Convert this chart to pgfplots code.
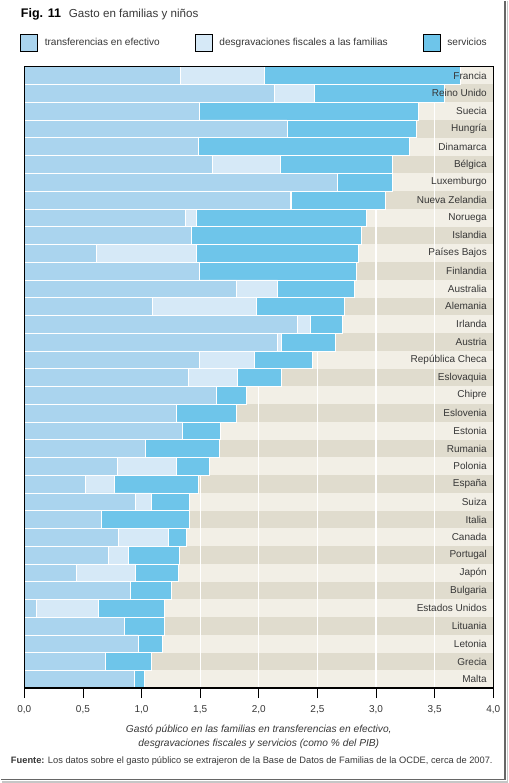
\documentclass[border=0pt]{standalone}
\usepackage{fontspec}
\setmainfont{Liberation Sans}
\usepackage{pgfplots}
\usepackage{pgfplotstable}
\pgfplotsset{compat=1.18}
\definecolor{cashc}{RGB}{170,212,238}
\definecolor{taxc}{RGB}{214,233,247}
\definecolor{servc}{RGB}{110,197,234}
\definecolor{stripeL}{RGB}{242,239,230}
\definecolor{stripeD}{RGB}{224,220,206}
\definecolor{txt}{RGB}{55,55,55}
\pgfplotsset{layers/mylayers/.define layer set={axis background,axis grid,main,axis ticks,axis lines,axis tick labels,axis descriptions,axis foreground}{/pgfplots/layers/standard}}

% idx, country, end of cash transfers, end of tax breaks, total (as % of GDP)
\pgfplotstableread{
idx name cash cashtax total
0 Francia 1.33 2.05 3.72
1 {Reino Unido} 2.13 2.47 3.58
2 Suecia 1.49 1.49 3.36
3 Hungría 2.24 2.24 3.34
4 Dinamarca 1.48 1.48 3.28
5 Bélgica 1.60 2.18 3.14
6 Luxemburgo 2.67 2.67 3.14
7 {Nueva Zelandia} 2.27 2.28 3.08
8 Noruega 1.37 1.47 2.92
9 Islandia 1.42 1.42 2.87
10 {Países Bajos} 0.61 1.47 2.85
11 Finlandia 1.49 1.49 2.83
12 Australia 1.81 2.16 2.81
13 Alemania 1.09 1.98 2.73
14 Irlanda 2.33 2.44 2.71
15 Austria 2.16 2.19 2.65
16 {República Checa} 1.49 1.96 2.46
17 Eslovaquia 1.40 1.82 2.19
18 Chipre 1.64 1.64 1.89
19 Eslovenia 1.30 1.30 1.81
20 Estonia 1.35 1.35 1.67
21 Rumania 1.03 1.03 1.66
22 Polonia 0.79 1.30 1.58
23 España 0.52 0.77 1.48
24 Suiza 0.95 1.08 1.41
25 Italia 0.66 0.66 1.41
26 Canada 0.80 1.23 1.38
27 Portugal 0.72 0.89 1.32
28 Japón 0.44 0.95 1.31
29 Bulgaria 0.90 0.90 1.25
30 {Estados Unidos} 0.10 0.63 1.19
31 Lituania 0.85 0.85 1.19
32 Letonia 0.97 0.97 1.18
33 Grecia 0.69 0.69 1.08
34 Malta 0.94 0.94 1.02
}\data

\begin{document}
\begin{tikzpicture}
\path (0pt,0pt) rectangle (508pt,-783pt);
% frame of the figure
\draw[gray!45, line width=1.5pt] (507pt,0pt) -- (507pt,-782pt) -- (1pt,-782pt);
\draw[gray!80!black, line width=1.6pt] (505pt,0pt) -- (505pt,-779.5pt) -- (0pt,-779.5pt);
% title
\node[anchor=base west, inner sep=0pt] at (20pt,-17pt) {\fontsize{12.5}{14}\selectfont\bfseries Fig. 11};
\node[anchor=base west, inner sep=0pt, text=txt] at (68pt,-17pt) {\fontsize{11.6}{13}\selectfont Gasto en familias y niños};

\begin{axis}[
  set layers=mylayers,
  at={(23.5pt,-688pt)}, anchor=south west,
  scale only axis, width=469.5pt, height=622pt,
  xmin=0, xmax=4, ymin=-0.5, ymax=34.5, y dir=reverse,
  xbar, bar width=1, bar shift=0pt,
  xtick={0,0.5,...,4}, xtick pos=bottom,
  tick align=outside, major tick length=10pt,
  xtick style={black, line width=0.8pt},
  xticklabel style={font=\fontsize{10}{12}\selectfont, text=txt, yshift=-4pt},
  /pgf/number format/fixed, /pgf/number format/fixed zerofill,
  /pgf/number format/precision=1, /pgf/number format/use comma,
  /pgf/number format/assume math mode=true,
  ytick={0,...,34}, yticklabels from table={\data}{name},
  ytick pos=right, yticklabel pos=right, ytick style={draw=none},
  yticklabel style={anchor=east, xshift=-13pt, font=\fontsize{10}{12}\selectfont, text=txt},
  axis line style={black, line width=1.3pt},
  xlabel={Gastó público en las familias en transferencias en efectivo,\\desgravaciones fiscales y servicios (como \% del PIB)},
  xlabel style={at={(axis description cs:0.5,0)}, anchor=north, yshift=-33pt, align=center, font=\fontsize{10.2}{14}\selectfont\itshape, text=txt},
  legend columns=3, reverse legend,
  legend image code/.code={\draw[#1, draw=black, line width=0.8pt] (0pt,-9pt) rectangle (17pt,8pt);},
  legend style={draw=none, fill=none, at={(axis description cs:0,1)}, anchor=south west,
    xshift=-4.5pt, yshift=15pt, inner sep=0pt, font=\fontsize{10.1}{12}\selectfont,
    nodes={inner sep=0pt, text=txt},
    /tikz/every odd column/.append style={column sep=7pt},
    /tikz/every even column/.append style={column sep=35pt}},
]
% background stripes and white grid lines, drawn before the bars
\fill[stripeD] (rel axis cs:0,0) rectangle (rel axis cs:1,1);
\pgfplotsinvokeforeach{0,2,...,34}{
  \fill[stripeL] (axis cs:0,#1-0.5) rectangle (axis cs:4,#1+0.5);
}
\draw[white, line width=1.2pt] (rel axis cs:0.125,0) -- (rel axis cs:0.125,1);
\draw[white, line width=1.2pt] (rel axis cs:0.25,0) -- (rel axis cs:0.25,1);
\draw[white, line width=1.2pt] (rel axis cs:0.375,0) -- (rel axis cs:0.375,1);
\draw[white, line width=1.2pt] (rel axis cs:0.5,0) -- (rel axis cs:0.5,1);
\draw[white, line width=1.2pt] (rel axis cs:0.625,0) -- (rel axis cs:0.625,1);
\draw[white, line width=1.2pt] (rel axis cs:0.75,0) -- (rel axis cs:0.75,1);
\draw[white, line width=1.2pt] (rel axis cs:0.875,0) -- (rel axis cs:0.875,1);
\addplot[fill=servc, draw=white, line width=0.5pt, bar shift=0pt] table[x=total, y=idx]{\data};
\addlegendentry{servicios}
\addplot[fill=taxc, draw=white, line width=0.5pt, bar shift=0pt] table[x=cashtax, y=idx]{\data};
\addlegendentry{desgravaciones fiscales a las familias}
\addplot[fill=cashc, draw=white, line width=0.5pt, bar shift=0pt] table[x=cash, y=idx]{\data};
\addlegendentry{transferencias en efectivo}
\end{axis}

\node[anchor=base west, inner sep=0pt, text=txt] at (10pt,-763pt) {\fontsize{9.3}{11}\selectfont\textbf{Fuente:} Los datos sobre el gasto público se extrajeron de la Base de Datos de Familias de la OCDE, cerca de 2007.};
\end{tikzpicture}
\end{document}
